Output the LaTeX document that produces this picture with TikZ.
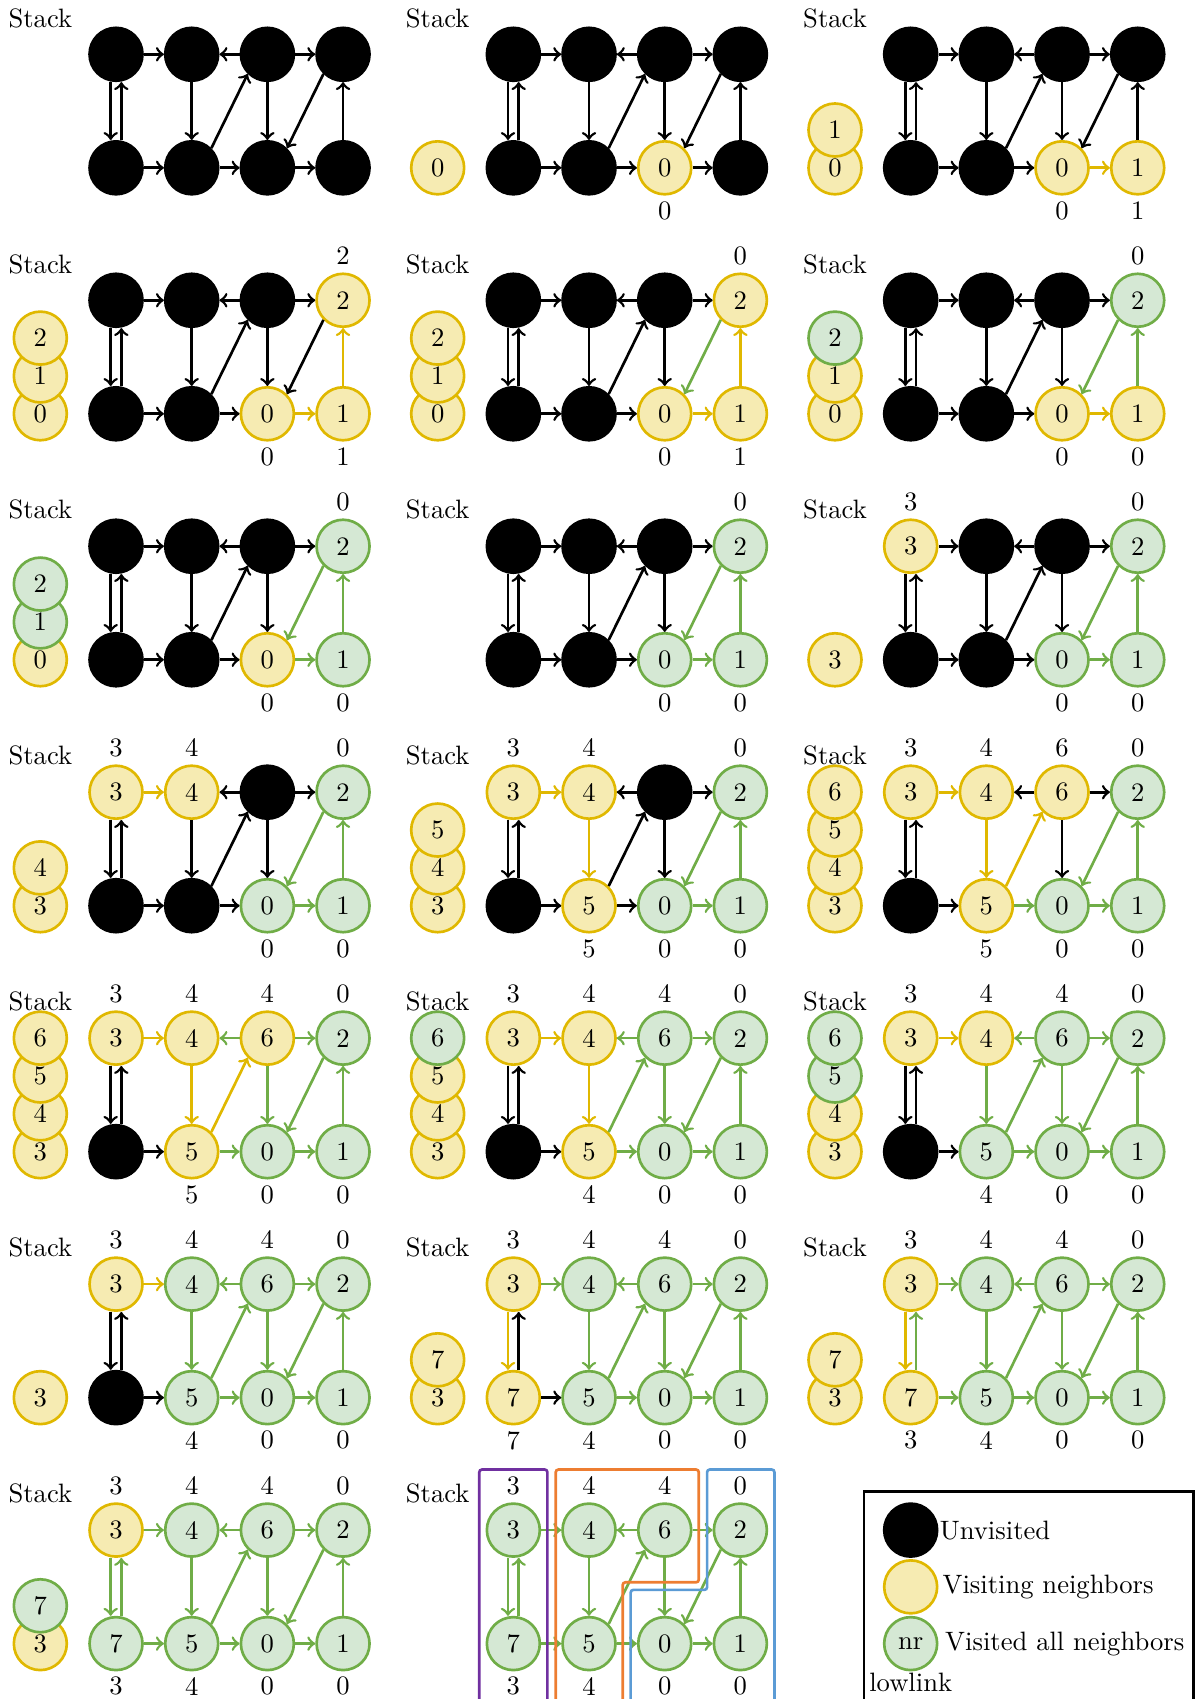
\documentclass[tikz,border=0pt]{standalone}
\usepackage{tikz}
\usetikzlibrary{positioning,calc}
\definecolor{VisLine}{HTML}{E0B800}
\definecolor{VisFill}{HTML}{F6EBB2}
\definecolor{FinLine}{HTML}{70AD47}
\definecolor{FinFill}{HTML}{D5E8D4}
\definecolor{SccPurple}{HTML}{7030A0}
\definecolor{SccOrange}{HTML}{ED7D31}
\definecolor{SccBlue}{HTML}{5B9BD5}
\tikzset{
  vertex/.style={circle,minimum size=7mm,inner sep=0pt,line width=1pt},
  unv/.style={vertex,draw=black,fill=black},
  vis/.style={vertex,draw=VisLine,fill=VisFill},
  fin/.style={vertex,draw=FinLine,fill=FinFill},
  link/.style={->,line width=1pt,draw=black},
  vis link/.style={e#1/.style={draw=VisLine}},
  fin link/.style={e#1/.style={draw=FinLine}},
  et0t1/.style={},et2t1/.style={},et2t3/.style={},et0b0/.style={},eb0t0/.style={},
  et1b1/.style={},eb1t2/.style={},et2b2/.style={},et3b2/.style={},eb3t3/.style={},
  eb0b1/.style={},eb1b2/.style={},eb2b3/.style={},
  first done/.style={fin link=t3b2,fin link=b3t3,fin link=b2b3},
  second done/.style={fin link=t1b1,fin link=b1t2,fin link=b1b2,
    fin link=t2t1,fin link=t2t3,fin link=t2b2},
  lowlab/.style={inner sep=1pt},
  scc/.style={line width=1pt,rounded corners=1pt}
}
% one step: shift, edge colours, vertices A..D/E..H as state/index/lowlink, stack bottom to top
\newcommand{\tarjanpanel}[4]{%
  \begin{scope}[shift={#1},#2]
    \foreach \st/\idx/\lowv [count=\i from 0] in {#3}{
      \pgfmathtruncatemacro{\col}{mod(\i,4)}
      \ifnum\i<4 \def\rw{t}\def\yy{0}\def\ly{0.59}\else\def\rw{b}\def\yy{-1.5}\def\ly{-2.065}\fi
      \node[\st] (\rw\col) at (\col,\yy) {\idx};
      \edef\tmp{\lowv}
      \ifx\tmp\empty\else\node[lowlab] (l\rw\col) at (\col,\ly) {\lowv};\fi
    }
    \foreach \src/\dst in {t0/t1,t2/t1,t2/t3,t1/b1,t2/b2,b3/t3,b0/b1,b1/b2,b2/b3}
      \draw[link,e\src\dst] (\src) -- (\dst);
    \draw[link,eb1t2] (b1.north east) -- (t2.south west);
    \draw[link,et3b2] (t3.south west) -- (b2.north east);
    \draw[link,et0b0] ([xshift=-2pt]t0.south) -- ([xshift=-2pt]b0.north);
    \draw[link,eb0t0] ([xshift=2pt]b0.north) -- ([xshift=2pt]t0.south);
    \if\relax\detokenize{#4}\relax\else
      \foreach \st/\idx [count=\k from 0] in {#4}
        \node[\st] (s\k) at (-1,-1.5+0.5*\k) {\idx};
    \fi
    \node (stk) at (-1,0.48) {Stack};
  \end{scope}}
\begin{document}
\begin{tikzpicture}
  \useasboundingbox (-1.533,0.7175) rectangle (14.257,-21.732);
  % row 1
  \tarjanpanel{(0,0)}{}{unv//,unv//,unv//,unv//,unv//,unv//,unv//,unv//}{}
  \tarjanpanel{(5.25,0)}{}{unv//,unv//,unv//,unv//,unv//,unv//,vis/0/0,unv//}{vis/0}
  \tarjanpanel{(10.5,0)}{vis link=b2b3}
    {unv//,unv//,unv//,unv//,unv//,unv//,vis/0/0,vis/1/1}{vis/0,vis/1}
  % row 2
  \tarjanpanel{(0,-3.25)}{vis link=b2b3,vis link=b3t3}
    {unv//,unv//,unv//,vis/2/2,unv//,unv//,vis/0/0,vis/1/1}{vis/0,vis/1,vis/2}
  \tarjanpanel{(5.25,-3.25)}{vis link=b2b3,vis link=b3t3,fin link=t3b2}
    {unv//,unv//,unv//,vis/2/0,unv//,unv//,vis/0/0,vis/1/1}{vis/0,vis/1,vis/2}
  \tarjanpanel{(10.5,-3.25)}{vis link=b2b3,fin link=b3t3,fin link=t3b2}
    {unv//,unv//,unv//,fin/2/0,unv//,unv//,vis/0/0,vis/1/0}{vis/0,vis/1,fin/2}
  % row 3
  \tarjanpanel{(0,-6.5)}{first done}
    {unv//,unv//,unv//,fin/2/0,unv//,unv//,vis/0/0,fin/1/0}{vis/0,fin/1,fin/2}
  \tarjanpanel{(5.25,-6.5)}{first done}
    {unv//,unv//,unv//,fin/2/0,unv//,unv//,fin/0/0,fin/1/0}{}
  \tarjanpanel{(10.5,-6.5)}{first done}
    {vis/3/3,unv//,unv//,fin/2/0,unv//,unv//,fin/0/0,fin/1/0}{vis/3}
  % row 4
  \tarjanpanel{(0,-9.75)}{first done,vis link=t0t1}
    {vis/3/3,vis/4/4,unv//,fin/2/0,unv//,unv//,fin/0/0,fin/1/0}{vis/3,vis/4}
  \tarjanpanel{(5.25,-9.75)}{first done,vis link=t0t1,vis link=t1b1}
    {vis/3/3,vis/4/4,unv//,fin/2/0,unv//,vis/5/5,fin/0/0,fin/1/0}{vis/3,vis/4,vis/5}
  \tarjanpanel{(10.5,-9.75)}{first done,vis link=t0t1,vis link=t1b1,vis link=b1t2,fin link=b1b2}
    {vis/3/3,vis/4/4,vis/6/6,fin/2/0,unv//,vis/5/5,fin/0/0,fin/1/0}{vis/3,vis/4,vis/5,vis/6}
  % row 5
  \tarjanpanel{(0,-13)}{first done,second done,vis link=t0t1,vis link=t1b1,vis link=b1t2}
    {vis/3/3,vis/4/4,vis/6/4,fin/2/0,unv//,vis/5/5,fin/0/0,fin/1/0}{vis/3,vis/4,vis/5,vis/6}
  \tarjanpanel{(5.25,-13)}{first done,second done,vis link=t0t1,vis link=t1b1}
    {vis/3/3,vis/4/4,fin/6/4,fin/2/0,unv//,vis/5/4,fin/0/0,fin/1/0}{vis/3,vis/4,vis/5,fin/6}
  \tarjanpanel{(10.5,-13)}{first done,second done,vis link=t0t1}
    {vis/3/3,vis/4/4,fin/6/4,fin/2/0,unv//,fin/5/4,fin/0/0,fin/1/0}{vis/3,vis/4,fin/5,fin/6}
  % row 6
  \tarjanpanel{(0,-16.25)}{first done,second done,vis link=t0t1}
    {vis/3/3,fin/4/4,fin/6/4,fin/2/0,unv//,fin/5/4,fin/0/0,fin/1/0}{vis/3}
  \tarjanpanel{(5.25,-16.25)}{first done,second done,fin link=t0t1,vis link=t0b0}
    {vis/3/3,fin/4/4,fin/6/4,fin/2/0,vis/7/7,fin/5/4,fin/0/0,fin/1/0}{vis/3,vis/7}
  \tarjanpanel{(10.5,-16.25)}{first done,second done,fin link=t0t1,vis link=t0b0,
      fin link=b0t0,fin link=b0b1}
    {vis/3/3,fin/4/4,fin/6/4,fin/2/0,vis/7/3,fin/5/4,fin/0/0,fin/1/0}{vis/3,vis/7}
  % row 7
  \tarjanpanel{(0,-19.5)}{link/.append style={draw=FinLine}}
    {vis/3/3,fin/4/4,fin/6/4,fin/2/0,fin/7/3,fin/5/4,fin/0/0,fin/1/0}{vis/3,fin/7}
  \tarjanpanel{(5.25,-19.5)}{link/.append style={draw=FinLine}}
    {fin/3/3,fin/4/4,fin/6/4,fin/2/0,fin/7/3,fin/5/4,fin/0/0,fin/1/0}{}
  % components
  \draw[scc,SccPurple] ($(t0)+(-0.45,0.8)$) rectangle ($(b0)+(0.45,-0.8)$);
  \draw[scc,SccOrange] ($(t1)+(-0.44,0.8)$) -- ($(t2)+(0.45,0.8)$) -- ($(t2)+(0.45,-0.69)$)
    -- ($(b1)+(0.445,0.81)$) -- ($(b1)+(0.445,-0.8)$) -- ($(b1)+(-0.44,-0.8)$) -- cycle;
  \draw[scc,SccBlue] ($(t3)+(-0.44,0.8)$) -- ($(t3)+(0.45,0.8)$) -- ($(b3)+(0.45,-0.8)$)
    -- ($(b2)+(-0.45,-0.8)$) -- ($(b2)+(-0.45,0.71)$) -- ($(t3)+(-0.44,-0.79)$) -- cycle;
  % legend
  \draw[line width=1pt] (9.884,-18.993) rectangle (14.235,-21.9);
  \node[unv] (lgu) at (10.5,-19.5) {};
  \node[right=-3pt of lgu] (lgut) {Unvisited};
  \node[vis] (lgv) at (10.5,-20.25) {};
  \node[right=-2pt of lgv] (lgvt) {Visiting neighbors};
  \node[fin] (lgf) at (10.5,-21) {nr};
  \node[right=-1pt of lgf] (lgft) {Visited all neighbors};
  \node[lowlab,anchor=base] (lgl) at (10.5,-21.637) {lowlink};
\end{tikzpicture}
\end{document}
